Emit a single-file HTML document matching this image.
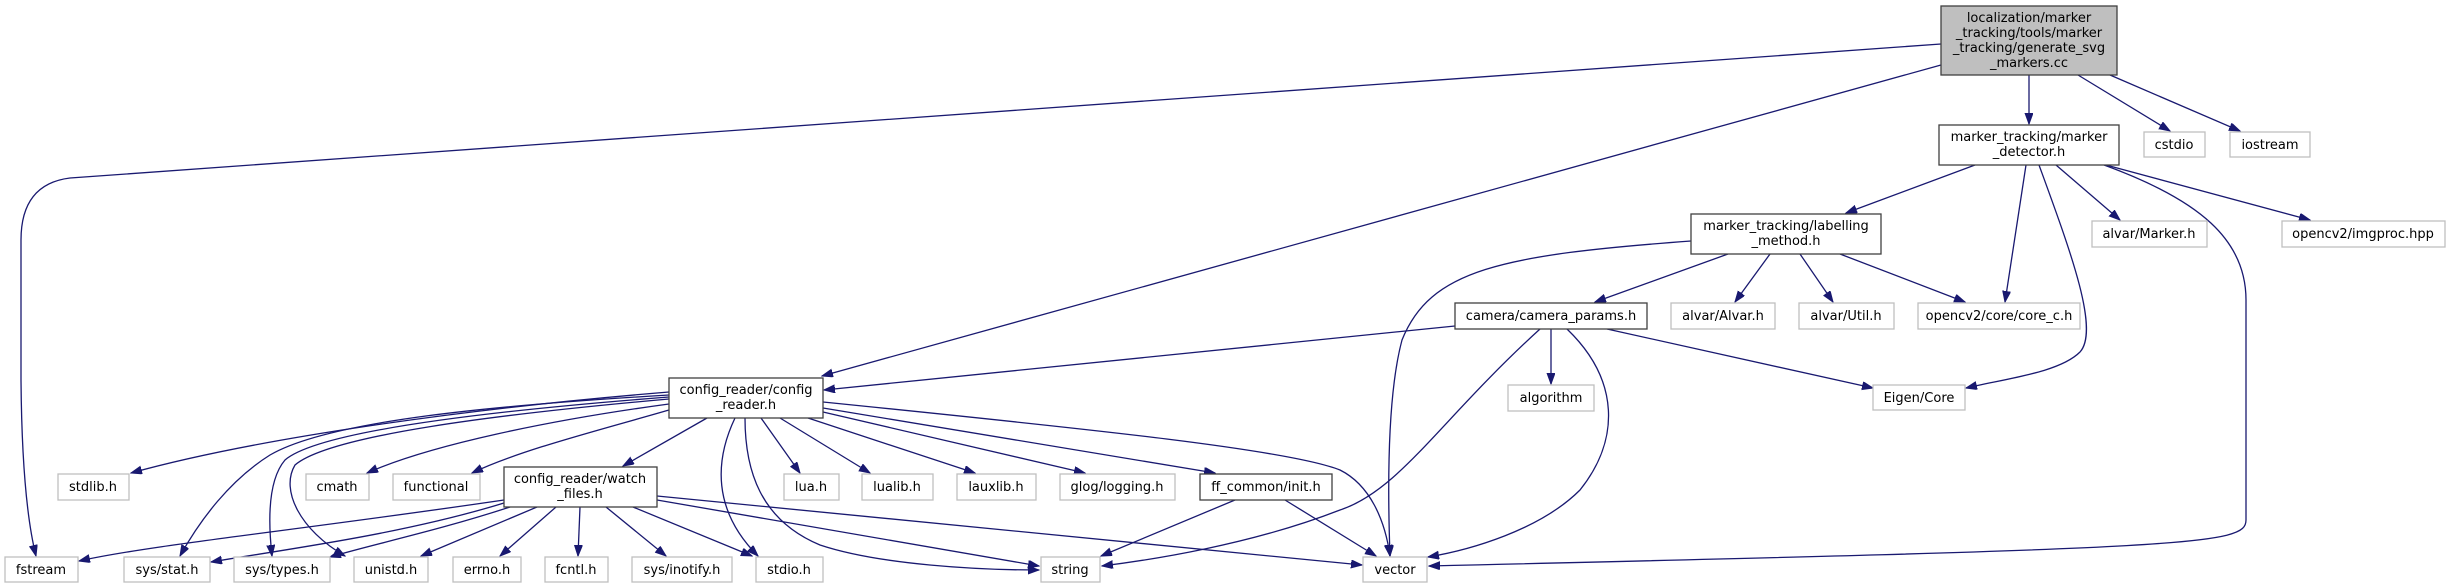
<!DOCTYPE html>
<html><head><meta charset="utf-8"><style>
html,body{margin:0;padding:0;background:#fff;}
svg{display:block;}
text{font-family:"DejaVu Sans","Liberation Sans",sans-serif;font-size:13px;fill:#000;text-anchor:middle;}
.e{fill:none;stroke:#191970;stroke-width:1.3;marker-end:url(#a);}
.l{fill:#fff;stroke:#bfbfbf;stroke-width:1.3;}
.d{fill:#fff;stroke:#404040;stroke-width:1.3;}
</style></head><body>
<svg width="2447" height="588" viewBox="0 0 2447 588" xmlns="http://www.w3.org/2000/svg">
<defs><marker id="a" markerUnits="userSpaceOnUse" markerWidth="12" markerHeight="9" refX="11" refY="4" orient="auto"><path d="M0,0 L11,4 L0,8 z" fill="#191970" stroke="#191970"/></marker></defs>
<!-- edges -->
<path class="e" d="M1941,44 L70,178 Q21,184 21,240 L21,380 Q22,500 36,556"/>
<path class="e" d="M1941,65 L822,376"/>
<path class="e" d="M2029,75 L2029,124"/>
<path class="e" d="M2078,75 L2170,131"/>
<path class="e" d="M2110,75 L2240,131"/>
<path class="e" d="M1975,165 L1846,213"/>
<path class="e" d="M2026,165 L2005,302"/>
<path class="e" d="M2039,165 C2070,250 2100,330 2080,352 C2060,372 2010,378 1966,388"/>
<path class="e" d="M2056,165 L2120,220"/>
<path class="e" d="M2106,165 L2310,220"/>
<path class="e" d="M2104,165 C2200,200 2246,240 2246,300 L2246,520 C2246,545 2200,548 1429,566"/>
<path class="e" d="M1691,241 C1500,255 1430,270 1402,340 C1386,400 1388,500 1390,556"/>
<path class="e" d="M1728,254 L1595,302"/>
<path class="e" d="M1770,254 L1735,302"/>
<path class="e" d="M1800,254 L1833,302"/>
<path class="e" d="M1840,254 L1965,302"/>
<path class="e" d="M1455,326 L824,390"/>
<path class="e" d="M1551,329 L1551,384"/>
<path class="e" d="M1607,329 L1873,388"/>
<path class="e" d="M1540,329 C1440,420 1400,490 1340,510 C1250,545 1150,560 1102,566"/>
<path class="e" d="M1567,329 C1620,380 1620,440 1580,490 C1540,530 1470,550 1428,557"/>
<path class="e" d="M669,392 C450,410 250,440 131,473"/>
<path class="e" d="M669,395 C500,405 330,420 270,455 C230,480 200,520 180,556"/>
<path class="e" d="M669,397 C500,410 320,430 285,460 C268,480 268,520 272,556"/>
<path class="e" d="M669,399 C500,414 330,435 295,465 C280,490 300,530 345,556"/>
<path class="e" d="M669,404 C550,420 430,445 367,473"/>
<path class="e" d="M669,410 C600,430 520,450 472,473"/>
<path class="e" d="M707,418 L623,466"/>
<path class="e" d="M735,418 C715,460 712,510 758,556"/>
<path class="e" d="M745,418 C745,470 760,520 820,545 C880,565 980,570 1039,570"/>
<path class="e" d="M761,418 L800,473"/>
<path class="e" d="M780,418 L870,473"/>
<path class="e" d="M808,418 L975,473"/>
<path class="e" d="M823,412 L1085,473"/>
<path class="e" d="M823,408 L1215,473"/>
<path class="e" d="M823,402 C1100,430 1290,450 1340,470 C1370,485 1385,520 1390,556"/>
<path class="e" d="M504,500 C300,530 150,545 79,561"/>
<path class="e" d="M504,503 C400,535 280,550 211,562"/>
<path class="e" d="M510,507 C440,530 370,545 330,557"/>
<path class="e" d="M537,507 L421,556"/>
<path class="e" d="M556,507 L500,556"/>
<path class="e" d="M580,507 L578,556"/>
<path class="e" d="M606,507 L666,556"/>
<path class="e" d="M633,507 L752,556"/>
<path class="e" d="M657,500 L1039,566"/>
<path class="e" d="M657,496 L1362,565"/>
<path class="e" d="M1235,500 L1101,556"/>
<path class="e" d="M1285,500 L1376,556"/>
<!-- nodes -->
<rect x="1941" y="6" width="176" height="69" fill="#bfbfbf" stroke="#404040" stroke-width="1.3"/>
<text x="2029" y="22">localization/marker</text><text x="2029" y="37">_tracking/tools/marker</text><text x="2029" y="52">_tracking/generate_svg</text><text x="2029" y="67">_markers.cc</text>
<rect class="d" x="1939" y="125" width="180" height="40"/><text x="2029" y="141">marker_tracking/marker</text><text x="2029" y="156">_detector.h</text>
<rect class="l" x="2144" y="132" width="61" height="25"/><text x="2174" y="149">cstdio</text>
<rect class="l" x="2230" y="132" width="80" height="25"/><text x="2270" y="149">iostream</text>
<rect class="d" x="1691" y="214" width="190" height="40"/><text x="1786" y="230">marker_tracking/labelling</text><text x="1786" y="245">_method.h</text>
<rect class="l" x="2092" y="221" width="115" height="26"/><text x="2149" y="238">alvar/Marker.h</text>
<rect class="l" x="2282" y="221" width="163" height="26"/><text x="2363" y="238">opencv2/imgproc.hpp</text>
<rect class="d" x="1455" y="303" width="192" height="26"/><text x="1551" y="320">camera/camera_params.h</text>
<rect class="l" x="1671" y="303" width="104" height="26"/><text x="1723" y="320">alvar/Alvar.h</text>
<rect class="l" x="1799" y="303" width="95" height="26"/><text x="1846" y="320">alvar/Util.h</text>
<rect class="l" x="1918" y="303" width="162" height="26"/><text x="1999" y="320">opencv2/core/core_c.h</text>
<rect class="l" x="1508" y="385" width="86" height="26"/><text x="1551" y="402">algorithm</text>
<rect class="l" x="1873" y="385" width="92" height="25"/><text x="1919" y="402">Eigen/Core</text>
<rect class="d" x="669" y="378" width="154" height="40"/><text x="746" y="394">config_reader/config</text><text x="746" y="409">_reader.h</text>
<rect class="l" x="58" y="474" width="71" height="26"/><text x="93" y="491">stdlib.h</text>
<rect class="l" x="306" y="474" width="63" height="26"/><text x="337" y="491">cmath</text>
<rect class="l" x="393" y="474" width="87" height="26"/><text x="436" y="491">functional</text>
<rect class="d" x="504" y="467" width="153" height="40"/><text x="580" y="483">config_reader/watch</text><text x="580" y="498">_files.h</text>
<rect class="l" x="784" y="474" width="55" height="26"/><text x="811" y="491">lua.h</text>
<rect class="l" x="862" y="474" width="71" height="26"/><text x="897" y="491">lualib.h</text>
<rect class="l" x="957" y="474" width="79" height="26"/><text x="996" y="491">lauxlib.h</text>
<rect class="l" x="1060" y="474" width="115" height="26"/><text x="1117" y="491">glog/logging.h</text>
<rect class="d" x="1200" y="474" width="132" height="26"/><text x="1266" y="491">ff_common/init.h</text>
<rect class="l" x="5" y="557" width="73" height="25"/><text x="41" y="574">fstream</text>
<rect class="l" x="124" y="557" width="86" height="25"/><text x="167" y="574">sys/stat.h</text>
<rect class="l" x="234" y="557" width="96" height="25"/><text x="282" y="574">sys/types.h</text>
<rect class="l" x="354" y="557" width="74" height="25"/><text x="391" y="574">unistd.h</text>
<rect class="l" x="453" y="557" width="68" height="25"/><text x="487" y="574">errno.h</text>
<rect class="l" x="545" y="557" width="63" height="25"/><text x="576" y="574">fcntl.h</text>
<rect class="l" x="632" y="557" width="100" height="25"/><text x="682" y="574">sys/inotify.h</text>
<rect class="l" x="756" y="557" width="67" height="25"/><text x="789" y="574">stdio.h</text>
<rect class="l" x="1041" y="557" width="59" height="25"/><text x="1070" y="574">string</text>
<rect class="l" x="1363" y="557" width="64" height="25"/><text x="1395" y="574">vector</text>
</svg>
</body></html>
